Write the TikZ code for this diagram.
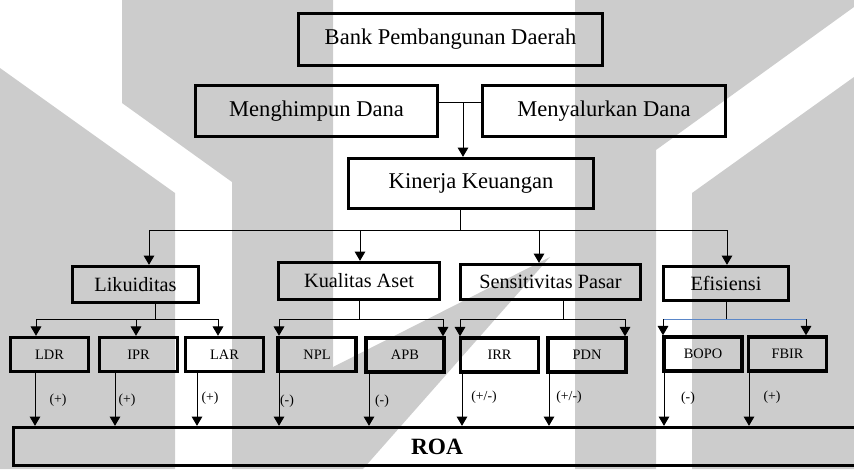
\documentclass[tikz,border=0pt]{standalone}
\usepackage{fontspec}
\setmainfont{Liberation Serif}
\usetikzlibrary{arrows.meta}

\definecolor{wmgray}{RGB}{204,204,204}
\definecolor{busblue}{RGB}{91,135,200}

\tikzset{every picture/.style={line width=0.75pt}}
\tikzset{
  bigbox/.style={draw, line width=2.5pt, inner sep=0pt, font=\fontsize{16.9}{20}\selectfont},
  midbox/.style={draw, line width=2.5pt, inner sep=0pt, font=\fontsize{15.2}{18}\selectfont},
  ratiobox/.style={draw, line width=2.6pt, inner sep=0pt, minimum width=58.5pt, minimum height=25.5pt, font=\fontsize{10.8}{12}\selectfont},
  arr/.style={-{Triangle[length=7pt,width=8pt]}},
  sign/.style={inner sep=0pt, font=\fontsize{10.3}{12}\selectfont},
}

\begin{document}
\begin{tikzpicture}[x=0.75pt,y=0.75pt,yscale=-1,xscale=1]
\useasboundingbox (0,0) rectangle (854,469);

%Watermark shapes
\fill[wmgray] (0,68) -- (175,193) -- (175,469) -- (0,469) -- cycle ;
\fill[wmgray] (122,0) -- (333,0) -- (333,469) -- (232,469) -- (232,182) -- (122,103) -- cycle ;
\fill[wmgray] (333,367) -- (550,257) -- (363,469) -- (333,469) -- cycle ;
\fill[wmgray] (575,0) -- (854,0) -- (854,7) -- (656,150) -- (656,469) -- (575,469) -- cycle ;
\fill[wmgray] (692,193) -- (854,77) -- (854,469) -- (692,469) -- cycle ;

%Shape: Rectangle (top)
\node[bigbox, minimum width=228pt, minimum height=39pt] (bpd) at (450.5,39.5) {Bank Pembangunan Daerah};
\node[bigbox, minimum width=181.5pt, minimum height=38.25pt] (mhd) at (316.5,111) {Menghimpun Dana};
\node[bigbox, minimum width=182.25pt, minimum height=38.25pt] (myd) at (604,111) {Menyalurkan Dana};
\node[bigbox, minimum width=183.75pt, minimum height=37.5pt] (kk) at (471,183.5) {Kinerja Keuangan};

%Shape: Rectangle (aspects)
\node[midbox, minimum width=94.5pt, minimum height=27pt] (lik) at (135.5,284.5) {Likuiditas};
\node[midbox, minimum width=120.75pt, minimum height=27.75pt] (ka) at (359,281) {Kualitas Aset};
\node[midbox, minimum width=135pt, minimum height=26.25pt] (sp) at (550.5,282) {Sensitivitas Pasar};
\node[midbox, minimum width=93.75pt, minimum height=25.5pt] (efi) at (726,283.5) {Efisiensi};

%Shape: Rectangle (ratios)
\node[ratiobox] (ldr) at (49.5,354.5) {LDR};
\node[ratiobox] (ipr) at (138.5,354.5) {IPR};
\node[ratiobox] (lar) at (224.5,354.5) {LAR};
\node[ratiobox] (npl) at (317,354.5) {NPL};
\node[ratiobox] (apb) at (405,355) {APB};
\node[ratiobox] (irr) at (499.5,355) {IRR};
\node[ratiobox] (pdn) at (587,355) {PDN};
\node[ratiobox] (bopo) at (703,354) {BOPO};
\node[ratiobox] (fbir) at (787.5,354) {FBIR};

%Shape: Rectangle (ROA)
\node[draw, line width=2.5pt, inner sep=0pt, minimum width=635.25pt, minimum height=28.5pt, font=\fontsize{17.5}{20}\selectfont\bfseries] (roa) at (437,446.5) {ROA};

%Straight Lines (top)
\coordinate (j0) at (463,102);
\draw (mhd.east |- j0) -- (myd.west |- j0) ;
\draw[arr] (j0) -- (j0 |- kk.north) ;

%Straight Lines (aspects)
\coordinate (b0) at (460,230);
\coordinate (b1) at (149,230);
\coordinate (b2) at (360,230);
\coordinate (b3) at (539,230);
\coordinate (b4) at (727,230);
\draw (b0 |- kk.south) -- (b0) ;
\draw (b1) -- (b4) ;
\draw[arr] (b1) -- (b1 |- lik.north) ;
\draw[arr] (b2) -- (b2 |- ka.north) ;
\draw[arr] (b3) -- (b3 |- sp.north) ;
\draw[arr] (b4) -- (b4 |- efi.north) ;

%Straight Lines (Likuiditas)
\coordinate (l0) at (155,319);
\coordinate (l1) at (36,319);
\coordinate (l2) at (136,319);
\coordinate (l3) at (218,319);
\draw (l0 |- lik.south) -- (l0) ;
\draw (l1) -- (l3) ;
\draw[arr] (l1) -- (l1 |- ldr.north) ;
\draw[arr] (l2) -- (l2 |- ipr.north) ;
\draw[arr] (l3) -- (l3 |- lar.north) ;

%Straight Lines (Kualitas Aset)
\coordinate (k0) at (359,319);
\coordinate (k1) at (279,319);
\coordinate (k2) at (443,319);
\draw (k0 |- ka.south) -- (k0) ;
\draw (k1) -- (k2) ;
\draw[arr] (k1) -- (k1 |- npl.north) ;
\draw[arr] (k2) -- (k2 |- apb.north) ;

%Straight Lines (Sensitivitas Pasar)
\coordinate (s0) at (563,319);
\coordinate (s1) at (460,319);
\coordinate (s2) at (625,319);
\draw (s0 |- sp.south) -- (s0) ;
\draw (s1) -- (s2) ;
\draw[arr] (s1) -- (s1 |- irr.north) ;
\draw[arr] (s2) -- (s2 |- pdn.north) ;

%Straight Lines (Efisiensi)
\coordinate (e0) at (726,319);
\coordinate (e1) at (663,319);
\coordinate (e2) at (806,319);
\draw (e0 |- efi.south) -- (e0) ;
\draw[busblue] (e1) -- (e2) ;
\draw[arr] (e1) -- (e1 |- bopo.north) ;
\draw[arr] (e2) -- (e2 |- fbir.north) ;

%Straight Lines (to ROA)
\coordinate (r1) at (35,400);
\coordinate (r2) at (115,400);
\coordinate (r3) at (197,400);
\coordinate (r4) at (279,400);
\coordinate (r5) at (369,400);
\coordinate (r6) at (462,400);
\coordinate (r7) at (549,400);
\coordinate (r8) at (664,400);
\coordinate (r9) at (749,400);
\draw[arr] (r1 |- ldr.south) -- (r1 |- roa.north) ;
\draw[arr] (r2 |- ipr.south) -- (r2 |- roa.north) ;
\draw[arr] (r3 |- lar.south) -- (r3 |- roa.north) ;
\draw[arr] (r4 |- npl.south) -- (r4 |- roa.north) ;
\draw[arr] (r5 |- apb.south) -- (r5 |- roa.north) ;
\draw[arr] (r6 |- irr.south) -- (r6 |- roa.north) ;
\draw[arr] (r7 |- pdn.south) -- (r7 |- roa.north) ;
\draw[arr] (r8 |- bopo.south) -- (r8 |- roa.north) ;
\draw[arr] (r9 |- fbir.south) -- (r9 |- roa.north) ;

% Text Node
\node[sign] (sg1) at (58,400) {(+)};
\node[sign] (sg2) at (127,400) {(+)};
\node[sign] (sg3) at (210,398) {(+)};
\node[sign] (sg4) at (287,401) {(-)};
\node[sign] (sg5) at (382,401) {(-)};
\node[sign] (sg6) at (484,397) {(+/-)};
\node[sign] (sg7) at (569,397) {(+/-)};
\node[sign] (sg8) at (688,398) {(-)};
\node[sign] (sg9) at (772,397) {(+)};

\end{tikzpicture}
\end{document}
